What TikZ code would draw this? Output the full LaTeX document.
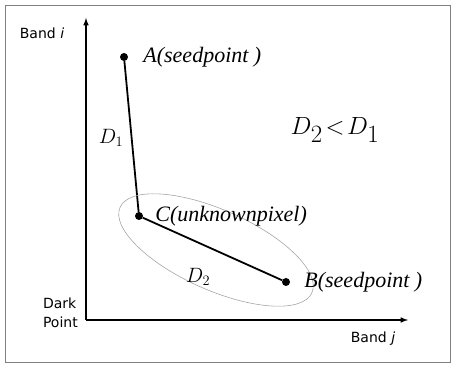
\documentclass[tikz,border=0pt]{standalone}
\usepackage{amsmath}
\usepackage{fontspec}
\usepackage{tikz}
\usetikzlibrary{arrows,positioning}
\newfontfamily\bandfont{DejaVu Sans}
\newfontfamily\labfont{Liberation Serif}

\begin{document}
\begin{tikzpicture}[x=1pt,y=1pt]
\tikzstyle{nod}= [circle, inner sep=0pt, fill=black, minimum size=8pt]
\tikzstyle{lab}= [inner sep=0pt, font=\labfont\itshape\fontsize{22}{24}\selectfont]
\tikzstyle{axl}= [inner sep=0pt, font=\bandfont\fontsize{14}{19}\selectfont]
\tikzstyle{dl}= [inner sep=0pt, font=\fontsize{21}{23}\selectfont]
%frame
\useasboundingbox (0,0) rectangle (453,367);
\draw[gray, line width=0.8pt] (5,5) rectangle (450,362);
%axes
\coordinate (o) at (86,47);
\coordinate (yi) at (86,349);
\coordinate (xj) at (408,47);
\draw[line width=1.5pt, -latex] (o) -- (yi);
\draw[line width=1.5pt, -latex] (o) -- (xj);
\node[axl] (bi) at (42,334) {Band \textit{i}};
\node[axl] (bj) at (373,28) {Band \textit{j}};
\node[axl, align=left, anchor=east] (dp) at (78,54) {Dark\\Point};
%points
\node[nod] (A) at (124,310) {};
\node[nod] (C) at (139,151) {};
\node[nod] (B) at (286,85) {};
\draw[line width=1.8pt] (A) -- (C) -- (B);
\draw[gray!70, line width=0.6pt] (216,117) ellipse [x radius=105, y radius=40, rotate=-24];
%labels
\node[lab, right=15pt of A] (la) {A(seedpoint )};
\node[lab, right=12pt of C] (lc) {C(unknownpixel)};
\node[lab, right=14pt of B] (lb) {B(seedpoint )};
\node[dl] (d1) at (111,229) {$D_1$};
\node[dl] (d2) at (198,90) {$D_2$};
\node[inner sep=0pt, font=\fontsize{34}{36}\selectfont] (cmp) at (335,237) {$D_2\!<\!D_1$};
\end{tikzpicture}
\end{document}
